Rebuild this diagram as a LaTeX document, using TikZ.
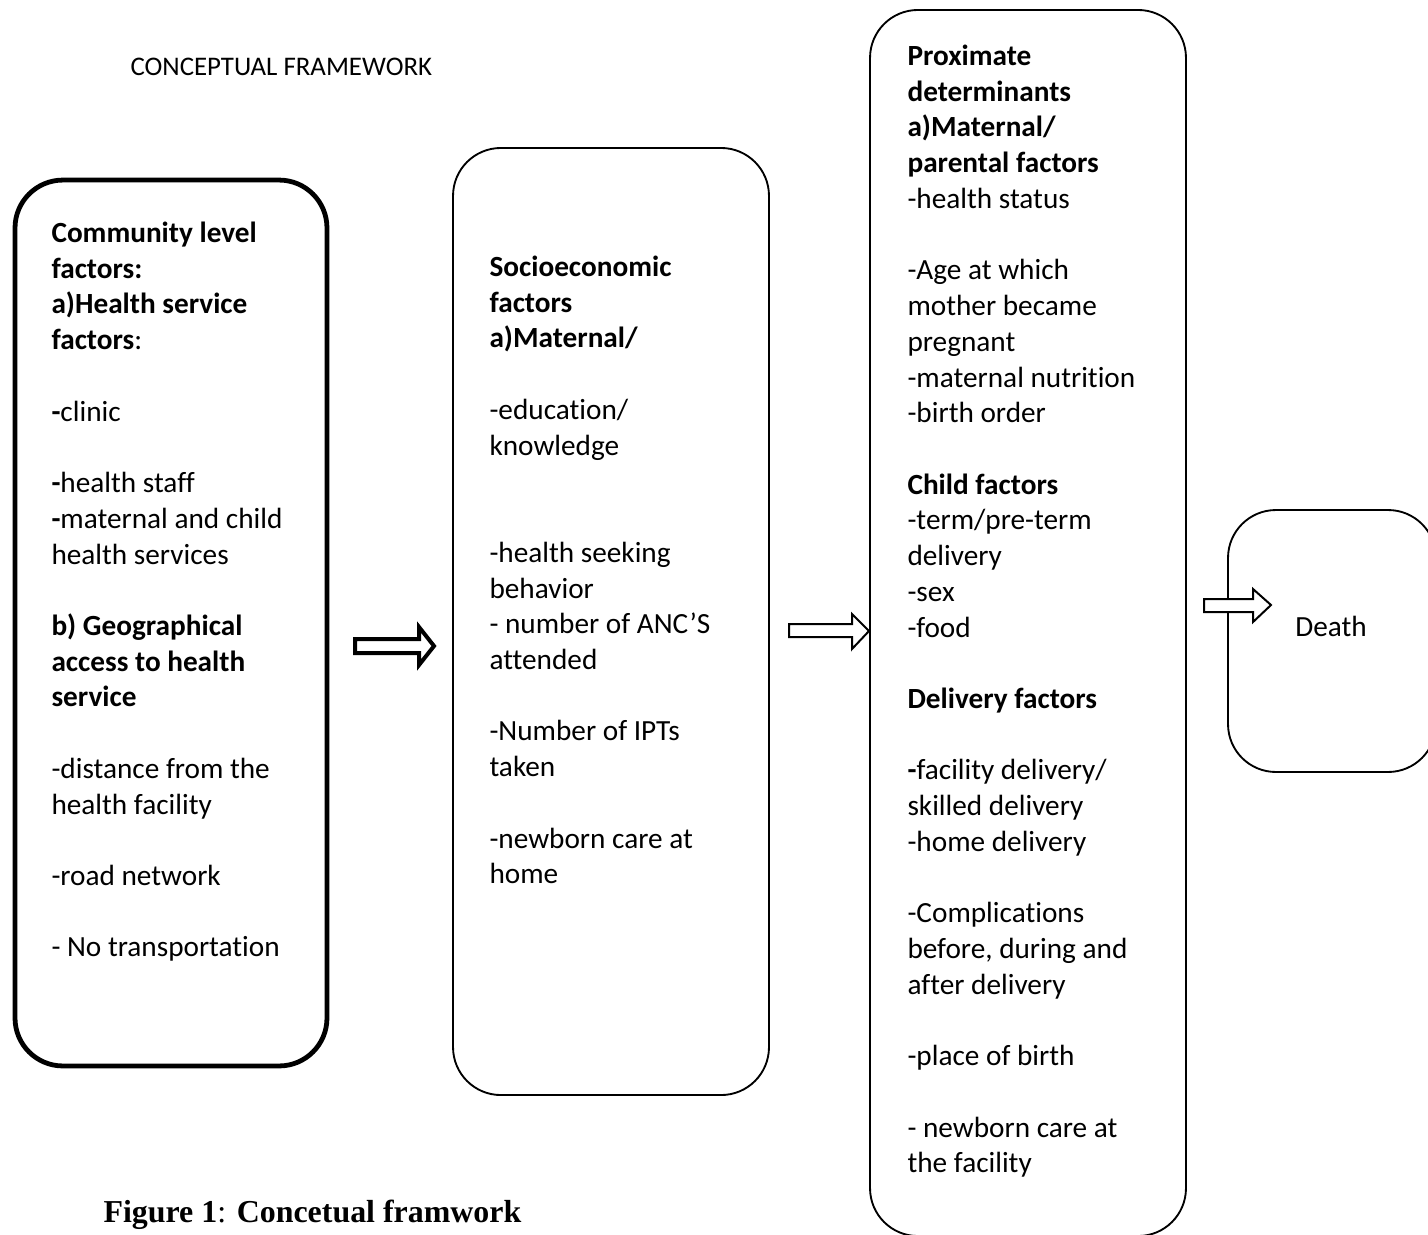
\documentclass[tikz,border=0pt]{standalone}
\usepackage{fontspec}
\setmainfont{Carlito}[Ligatures={NoCommon,NoDiscretionary}]
\newfontfamily\captionserif{Liberation Serif}
\usetikzlibrary{positioning}
\tikzset{
box/.style={draw, rounded corners=18pt, line width=0.7pt, inner sep=0pt},
thickbox/.style={box, line width=1.8pt},
factorlist/.style={anchor=north west, align=left, inner sep=0pt,
    font=\fontsize{11}{13.43}\selectfont},
blockarrow/.style={draw, fill=white, line width=0.75pt, line join=miter},
}
\newcommand{\gapline}{\\[13.43pt]}

\begin{document}
\begin{tikzpicture}[x=0.376pt,y=-0.376pt]
    \useasboundingbox (0,0) rectangle (1428,1234);
    % the four boxes
    \node[thickbox, minimum width=117.3pt, minimum height=333.1pt] (community) at (171,623) {};
    \node[box, minimum width=118.8pt, minimum height=356.1pt] (socio) at (611,621.5) {};
    \node[box, minimum width=118.8pt, minimum height=461pt] (proximate) at (1028,623) {};
    \node[box, minimum width=78.2pt, minimum height=98.5pt] (death) at (1332,641) {};
    % texts
    \node[anchor=base west, inner sep=0pt, font=\fontsize{10.1}{12.3}\selectfont] (title) at (130,75) {CONCEPTUAL FRAMEWORK};
    \node[factorlist] (communitytext) at (51,217) {\strut\textbf{Community level}\\
        \textbf{factors:}\\
        \textbf{a)Health service}\\
        \textbf{factors}:\gapline
        \textbf{-}clinic\gapline
        \textbf{-}health staff\\
        \textbf{-}maternal and child\\
        health services\gapline
        \textbf{b) Geographical}\\
        \textbf{access to health}\\
        \textbf{service}\gapline
        -distance from the\\
        health facility\gapline
        -road network\gapline
        - No transportation};
    \node[factorlist] (sociotext) at (489,251) {\strut\textbf{Socioeconomic}\\
        \textbf{factors}\\
        \textbf{a)Maternal/}\gapline
        -education/\\
        knowledge\\[26.86pt]
        -health seeking\\
        behavior\\
        - number of ANC’S\\
        attended\gapline
        -Number of IPTs\\
        taken\gapline
        -newborn care at\\
        home};
    \node[factorlist] (proximatetext) at (907,40) {\strut\textbf{Proximate}\\
        \textbf{determinants}\\
        \textbf{a)Maternal/}\\
        \textbf{parental factors}\\
        -health status\gapline
        -Age at which\\
        mother became\\
        pregnant\\
        -maternal nutrition\\
        -birth order\gapline
        \textbf{Child factors}\\
        -term/pre-term\\
        delivery\\
        -sex\\
        -food\gapline
        \textbf{Delivery factors}\gapline
        \textbf{-}facility delivery/\\
        skilled delivery\\
        -home delivery\gapline
        -Complications\\
        before, during and\\
        after delivery\gapline
        -place of birth\gapline
        - newborn care at\\
        the facility};
    \node[inner sep=0pt, font=\fontsize{11}{13.43}\selectfont] (deathtext) at (1331,626) {Death};
    % block arrows between the boxes
    \draw[blockarrow, line width=1.5pt] (355,639) -- (419,639) -- (419,627) -- (434,646)
        -- (419,665) -- (419,653) -- (355,653) -- cycle;
    \draw[blockarrow] (789,624) -- (852,624) -- (852,614) -- (869,631)
        -- (852,649) -- (852,637) -- (789,637) -- cycle;
    \draw[blockarrow] (1204,599) -- (1253,599) -- (1253,589) -- (1271,605)
        -- (1253,622) -- (1253,612) -- (1204,612) -- cycle;
    % caption
    \node[anchor=base west, inner sep=0pt, font=\captionserif\fontsize{12}{14}\selectfont] (caption) at (103,1222)
        {\textbf{Figure 1}: \textbf{Concetual framwork}};
\end{tikzpicture}
\end{document}
